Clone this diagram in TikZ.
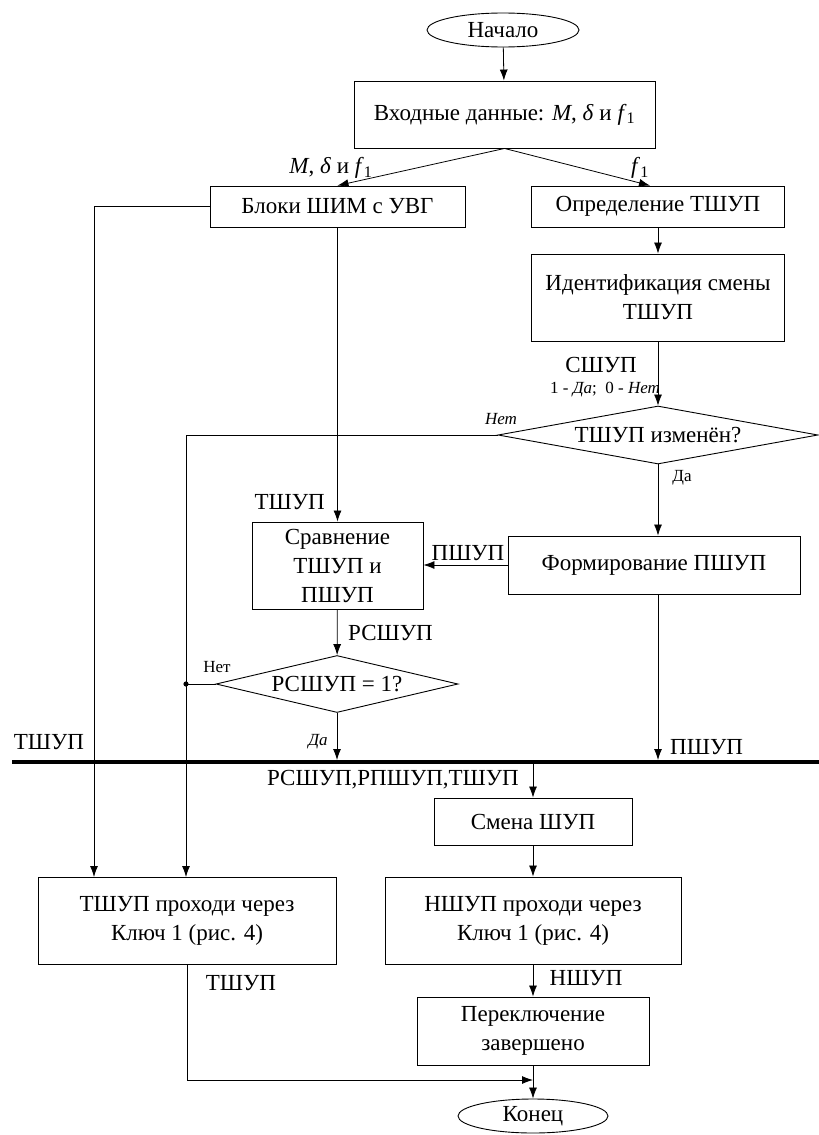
\documentclass[tikz,border=0pt]{standalone}
\usepackage{fontspec}
\setmainfont{Liberation Serif}
\usetikzlibrary{positioning,shapes.geometric,arrows.meta}

\tikzset{
  every node/.style={font=\fontsize{23}{29}\selectfont},
  blockbox/.style={draw,line width=0.9pt,align=center,inner sep=0pt},
  termbox/.style={draw,ellipse,line width=0.9pt,inner sep=0pt,minimum width=152pt,minimum height=34pt},
  decbox/.style={draw,diamond,line width=0.9pt,inner sep=0pt},
  flow/.style={line width=0.8pt,-{Latex[length=11pt,width=8pt]}},
  plain/.style={line width=0.8pt},
  tag/.style={inner sep=0pt},
  smalltag/.style={inner sep=0pt,font=\fontsize{17}{19}\selectfont}
}

\begin{document}
\begin{tikzpicture}[x=1pt,y=-1pt]
    \useasboundingbox (0,0) rectangle (819,1135);

    % Start and input data
    \node[termbox] (start) at (503,30) {Начало};
    \node[blockbox,minimum width=301pt,minimum height=67pt] (input) at (504.5,114.5)
        {Входные данные: \textit{M}, \textit{δ} и \textit{f}\textsubscript{1}};

    % Upper row
    \node[blockbox,minimum width=255pt,minimum height=41pt] (pwm) at (337.5,206.5) {Блоки ШИМ с УВГ};
    \node[blockbox,minimum width=253pt,minimum height=41pt] (det) at (658,206.5) {Определение ТШУП};
    \node[blockbox,minimum width=253pt,minimum height=87pt] (ident) at (658,297.5) {Идентификация смены\\ТШУП};
    \node[decbox,minimum width=320pt,minimum height=58pt,aspect=5.5] (chg) at (658,435) {ТШУП изменён?};

    % Middle row
    \node[blockbox,minimum width=171pt,minimum height=87pt] (cmp) at (337.5,565.5) {Сравнение\\ТШУП и\\ПШУП};
    \node[blockbox,minimum width=292pt,minimum height=58pt] (form) at (654,565) {Формирование ПШУП};
    \node[decbox,minimum width=242pt,minimum height=57pt,aspect=4.2] (eq) at (337,684) {РСШУП = 1?};

    % Bus
    \coordinate (busL) at (12,762);
    \coordinate (busR) at (819,762);
    \coordinate (jn) at (186,684);
    \coordinate (ktin1) at (94,877);
    \coordinate (ktin2) at (186,877);
    \coordinate (merge) at (533,1080);

    % Lower part
    \node[blockbox,minimum width=198pt,minimum height=47pt] (swap) at (533,821.5) {Смена ШУП};
    \node[blockbox,minimum width=298pt,minimum height=87pt] (kt) at (187,920.5) {ТШУП проходи через\\Ключ 1 (рис. 4)};
    \node[blockbox,minimum width=296pt,minimum height=87pt] (kn) at (533,920.5) {НШУП проходи через\\Ключ 1 (рис. 4)};
    \node[blockbox,minimum width=232pt,minimum height=68pt] (done) at (533,1031) {Переключение\\завершено};
    \node[termbox,minimum width=150pt] (end) at (533,1116) {Конец};

    % Connectors
    \draw[flow] (start) -- (input);
    \draw[flow] (input.south) -- (pwm.north);
    \draw[flow] (input.south) -- ([xshift=-8pt]det.north);
    \draw[flow] (pwm.west) -| (ktin1);
    \draw[flow] (pwm.south) -- (cmp.north);
    \draw[flow] (det) -- (ident);
    \draw[flow] (ident) -- (chg);
    \draw[flow] (chg.west) -| (ktin2);
    \draw[flow] (chg.south) -- (chg.south |- form.north);
    \draw[flow] (form.west) -- (form.west -| cmp.east);
    \draw[flow] (cmp) -- (eq);
    \draw[plain] (eq.west) -- (jn);
    \fill (jn) circle (2.6pt);
    \draw[flow,shorten >=2pt] (eq.south) -- (eq.south |- busL);
    \draw[flow,shorten >=2pt] (chg.south |- form.south) -- (chg.south |- busL);
    \draw[line width=4pt] (busL) -- (busR);
    \draw[flow,shorten <=2pt] (swap.north |- busL) -- (swap.north);
    \draw[flow] (swap) -- (kn);
    \draw[flow] (kn) -- (done);
    \draw[flow] (done) -- (end);
    \draw[flow] (kt.south) |- (merge);

    % Labels
    \node[tag] (lblIn) at (331,168) {\textit{M}, \textit{δ} и \textit{f}\textsubscript{1}};
    \node[tag] (lblF) at (640,168) {\textit{f}\textsubscript{1}};
    \node[tag,anchor=east] (lblT1) at (325,502) {ТШУП};
    \node[tag] (lblS) at (601,365) {СШУП};
    \node[smalltag] (lblSv) at (605,390) {1 - \textit{Да};\enspace 0 - \textit{Нет}};
    \node[smalltag] (lblNo1) at (501,419) {\textit{Нет}};
    \node[smalltag] (lblYes1) at (682,478) {Да};
    \node[tag] (lblP1) at (468,553) {ПШУП};
    \node[tag,anchor=west] (lblR) at (348,633) {РСШУП};
    \node[smalltag] (lblNo2) at (217,667) {Нет};
    \node[smalltag] (lblYes2) at (318,742) {\textit{Да}};
    \node[tag] (lblT2) at (49,742) {ТШУП};
    \node[tag,anchor=west] (lblP2) at (670,747) {ПШУП};
    \node[tag,anchor=east] (lblBus) at (519,780) {РСШУП,РПШУП,ТШУП};
    \node[tag] (lblN) at (586,978) {НШУП};
    \node[tag] (lblT3) at (241,983) {ТШУП};
  \end{tikzpicture}
\end{document}
